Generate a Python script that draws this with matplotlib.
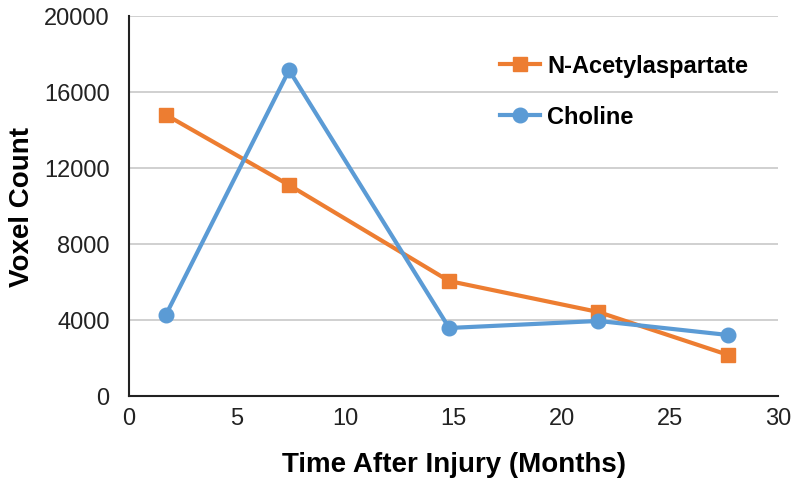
import matplotlib
matplotlib.use('Agg')
import matplotlib.pyplot as plt

# values
months = [1.7, 7.4, 14.8, 21.7, 27.7]
naa = [14800, 11100, 6050, 4420, 2160]
choline = [4260, 17150, 3580, 3950, 3210]
yticks = [0, 4000, 8000, 12000, 16000, 20000]
xticks = [0, 5, 10, 15, 20, 25, 30]

plt.rcParams['font.family'] = ['Liberation Sans', 'DejaVu Sans']

fig = plt.figure(figsize=(8, 4.85), dpi=100)
ax = fig.add_axes([129 / 800, 1 - 397 / 485, (778 - 129) / 800, (397 - 17) / 485])

ax.plot(months, naa, color='#ED7D31', lw=3, marker='s', ms=10.5,
        label='N-Acetylaspartate', zorder=3)
ax.plot(months, choline, color='#5B9BD5', lw=3, marker='o', ms=10.5,
        label='Choline', zorder=3)

ax.set_xlim(0, 30)
ax.set_ylim(0, 20000)
ax.set_xticks(xticks)
ax.set_yticks(yticks)
ax.tick_params(length=0, labelsize=17, colors='#222222')
ax.tick_params(axis='y', pad=14)
ax.tick_params(axis='x', pad=8)
ax.yaxis.grid(True, color='#c8c8c8', lw=1.2)
ax.set_axisbelow(True)
for s in ['top', 'right']:
    ax.spines[s].set_visible(False)
for s in ['left', 'bottom']:
    ax.spines[s].set_color('#222222')
    ax.spines[s].set_linewidth(1.5)

ax.set_xlabel('Time After Injury (Months)', fontsize=20, fontweight='bold', labelpad=16)
ax.set_ylabel('Voxel Count', fontsize=20, fontweight='bold', labelpad=6)

leg = ax.legend(loc='upper left', bbox_to_anchor=(0.539, 0.956), frameon=False,
                prop={'weight': 'bold', 'size': 17},
                handlelength=1.7, labelspacing=1.2, handletextpad=0.3)

fig.savefig('out.png', dpi=100)
